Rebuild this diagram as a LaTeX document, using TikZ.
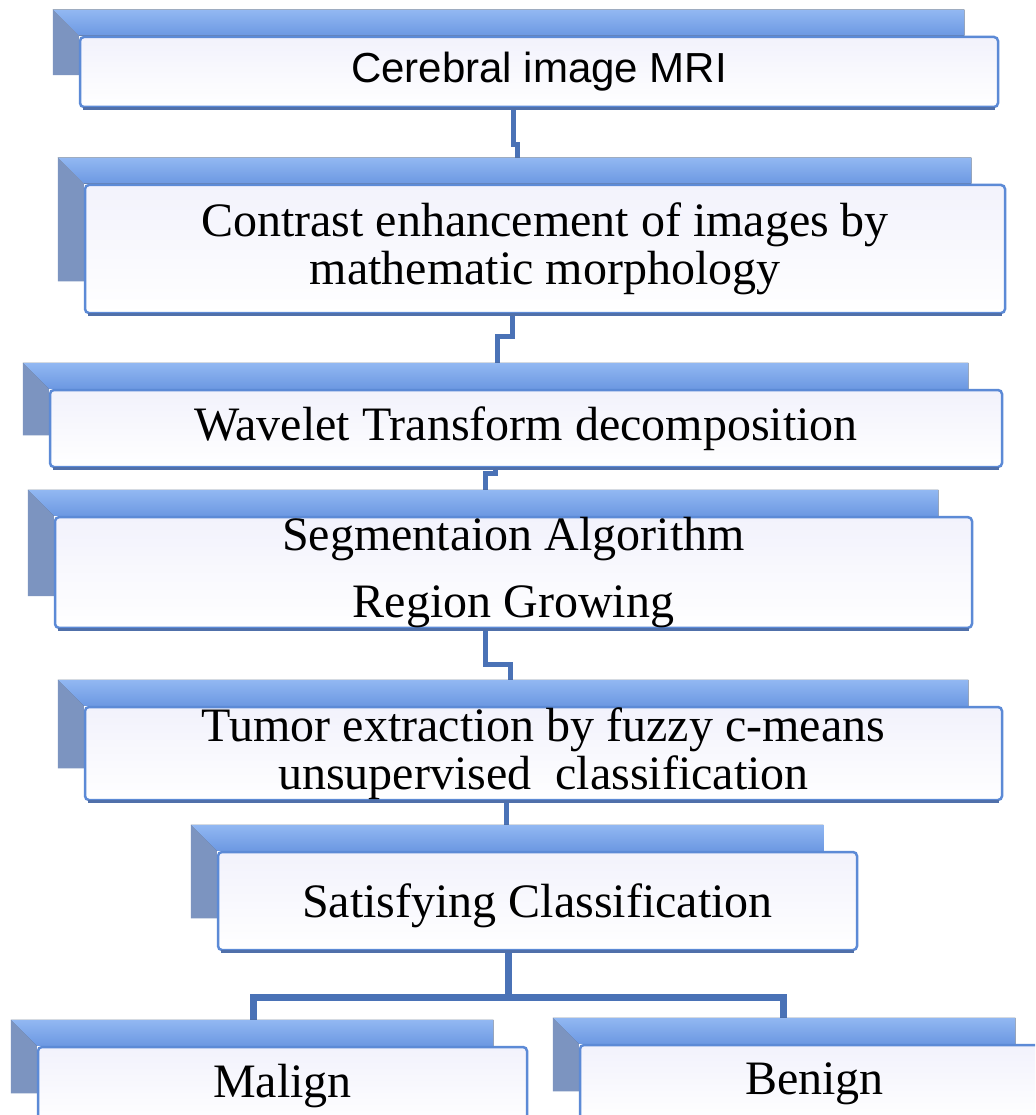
\documentclass[tikz,border=0pt]{standalone}
\usepackage{fontspec}
\setmainfont{Liberation Serif}
\newfontfamily\mrifont{Liberation Sans}
\usetikzlibrary{backgrounds}
\definecolor{tabblue}{RGB}{146,184,242}
\definecolor{tabdeep}{RGB}{108,152,226}
\definecolor{tabgrey}{RGB}{124,148,192}
\definecolor{edgeblue}{RGB}{92,138,214}
\definecolor{edgedark}{RGB}{80,112,170}
\definecolor{boxfill}{RGB}{242,242,252}
\definecolor{linkblue}{RGB}{74,114,182}

\newcommand\boxtab[1]{%
  \fill[tabtop] ([shift={(-26,-26)}]#1.north west) -- ([shift={(-35,-26)}]#1.north east)
    -- ([shift={(-35,0)}]#1.north east) -- (#1.north west) -- cycle;
  \fill[tabside] ([shift={(-26,-26)}]#1.north west) -- (#1.north west)
    -- ([shift={(0,-33)}]#1.south west) -- ([shift={(-26,-33)}]#1.south west) -- cycle;}

\begin{document}
\begin{tikzpicture}[x=1pt,y=-1pt,
    frontbox/.style={draw=edgeblue,line width=2.5pt,rounded corners=4pt,
      top color=boxfill,bottom color=white,inner sep=0pt,align=center,
      font=\fontsize{48}{48}\selectfont},
    tabtop/.style={top color=tabblue,bottom color=tabdeep},
    tabside/.style={fill=tabgrey},
    boxfoot/.style={edgedark,line width=3pt},
    link/.style={linkblue,line width=5pt},
    fork/.style={linkblue,line width=7pt}]
\useasboundingbox (0,0) rectangle (1035,1115);
\clip (0,0) rectangle (1035,1115);

\node[frontbox,minimum width=918pt,minimum height=70pt] (mri) at (539,72)
  {\mrifont\fontsize{42}{42}\selectfont Cerebral image MRI};
\node[frontbox,minimum width=920pt,minimum height=128pt] (contrast) at (545,249)
  {Contrast enhancement of images by\\mathematic morphology};
\node[frontbox,minimum width=952pt,minimum height=77pt] (wavelet) at (526,428.5)
  {Wavelet Transform decomposition};
\node[frontbox,minimum width=917pt,minimum height=101pt] (segm) at (513.5,572.5)
  {Segmentaion Algorithm\\[19pt]Region Growing};
\node[frontbox,minimum width=917pt,minimum height=93pt] (tumor) at (543.5,753.5)
  {Tumor extraction by fuzzy c-means\\unsupervised\ \ classification};
\node[frontbox,minimum width=639pt,minimum height=98pt,text height=32pt,text depth=0pt] (satisf) at (537.5,901)
  {Satisfying Classification};
\node[frontbox,minimum width=489pt,minimum height=78pt] (malign) at (282.5,1086)
  {Malign};
\node[frontbox,minimum width=469pt,minimum height=78pt] (benign) at (814.5,1084)
  {Benign};

\foreach \n in {mri,contrast,wavelet,segm,tumor,satisf,malign,benign}
  \draw[boxfoot] ([xshift=4pt]\n.south west) -- ([xshift=-4pt]\n.south east);

\begin{scope}[on background layer]
\fill[white] (0,0) rectangle (1035,1115);
\draw[link] ([shift={(-26,0)}]mri.south) -- ++(0,36) -| ([shift={(-28,-26)}]contrast.north);
\draw[link] ([shift={(-33,0)}]contrast.south) -- ++(0,22) -| ([shift={(-29,-26)}]wavelet.north);
\draw[link] ([shift={(-31,0)}]wavelet.south) -- ++(0,5) -| ([shift={(-28.5,-26)}]segm.north);
\draw[link] ([shift={(-28.5,0)}]segm.south) -- ++(0,35) -| ([shift={(-33.5,-26)}]tumor.north);
\draw[link] ([shift={(-37.5,0)}]tumor.south) -- ([shift={(-31.5,-26)}]satisf.north);
\draw[fork] ([shift={(-29.5,0)}]satisf.south) -- ++(0,46) coordinate (split);
\draw[fork] (split) -| ([shift={(-29.5,-26)}]malign.north);
\draw[fork] (split) -| ([shift={(-31.5,-26)}]benign.north);
\foreach \n in {mri,contrast,wavelet,segm,tumor,satisf,malign,benign}
  {\boxtab{\n}}
\end{scope}
\end{tikzpicture}
\end{document}
